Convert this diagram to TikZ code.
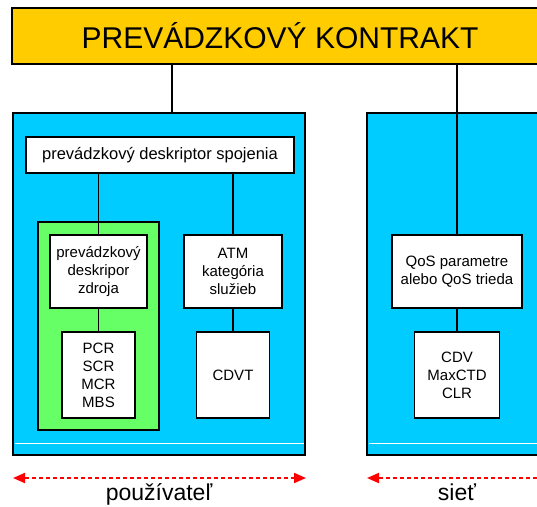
\documentclass[tikz,border=0pt]{standalone}
\usepackage{fontspec}
\setmainfont{Liberation Sans}
\usetikzlibrary{arrows.meta}
\definecolor{titleyellow}{HTML}{FFCC00}
\definecolor{boxcyan}{HTML}{00CCFF}
\definecolor{boxgreen}{HTML}{66FF66}
\definecolor{arrred}{HTML}{FF0000}
\tikzset{
  frame/.style={draw=black,line width=1.6pt,rectangle,inner sep=0pt},
  whitebox/.style={frame,fill=white,align=center,font=\fontsize{15}{18}\selectfont},
  conn/.style={draw=black,line width=1.6pt},
  spanarrow/.style={draw=arrred,line width=2pt,dash pattern=on 4pt off 3pt,
    {Triangle[length=12pt,width=10pt,fill=arrred]}-{Triangle[length=12pt,width=10pt,fill=arrred]}},
  sidelabel/.style={anchor=base,inner sep=0pt,font=\fontsize{23}{27}\selectfont}
}
\begin{document}
\begin{tikzpicture}[x=1pt,y=-1pt]
\useasboundingbox (0,0) rectangle (537,506);
% title
\node[frame,fill=titleyellow,minimum width=533pt,minimum height=56pt] (title) at (278.5,36) {};
\node[inner sep=0pt,font=\fontsize{30}{36}\selectfont] (titletext) at (280,36) {PREVÁDZKOVÝ KONTRAKT};
% big boxes
\node[frame,fill=boxcyan,minimum width=292pt,minimum height=342pt] (left) at (159,284) {};
\node[frame,fill=boxcyan,minimum width=178pt,minimum height=342pt] (right) at (456,284) {};
\draw[white,line width=1pt] (14.5,443) -- (304,443);
\draw[white,line width=1pt] (368.5,443) -- (545,443);
% left content
\node[whitebox,minimum width=268pt,minimum height=36pt,font=\fontsize{16.5}{20}\selectfont] (desc) at (160,155) {prevádzkový deskriptor spojenia};
\node[frame,fill=boxgreen,minimum width=121pt,minimum height=208pt] (green) at (98.5,326) {};
\node[whitebox,minimum width=97pt,minimum height=73pt] (src) at (98.5,271.5) {prevádzkový\\deskripor\\zdroja};
\node[whitebox,minimum width=73pt,minimum height=86pt] (pcr) at (98.5,375) {PCR\\SCR\\MCR\\MBS};
\node[whitebox,minimum width=98pt,minimum height=73pt] (atm) at (233,271.5) {ATM\\kategória\\služieb};
\node[whitebox,minimum width=73pt,minimum height=86pt] (cdvt) at (233,375) {CDVT};
% right content
\node[whitebox,minimum width=130pt,minimum height=73pt] (qos) at (457,271.5) {QoS parametre\\alebo QoS trieda};
\node[whitebox,minimum width=85pt,minimum height=86pt] (cdv) at (457,375) {CDV\\MaxCTD\\CLR};
% connectors
\coordinate (tl) at (172,0);
\draw[conn] (title.south -| tl) -- (left.north -| tl);
\draw[conn] (title.south -| qos.north) -- (qos.north);
\draw[conn] (desc.south -| src.north) -- (src.north);
\draw[conn] (desc.south -| atm.north) -- (atm.north);
\draw[conn] (src.south) -- (pcr.north);
\draw[conn] (atm.south) -- (cdvt.north);
\draw[conn] (qos.south) -- (cdv.north);
% span arrows
\coordinate (la) at (13,478);
\coordinate (lb) at (306,478);
\coordinate (ra) at (367,478);
\coordinate (rb) at (549,478);
\draw[spanarrow] (la) -- (lb);
\draw[spanarrow] (ra) -- (rb);
\node[sidelabel] (user) at (159,500) {používateľ};
\node[sidelabel] (net) at (457,500) {sieť};
\end{tikzpicture}
\end{document}
